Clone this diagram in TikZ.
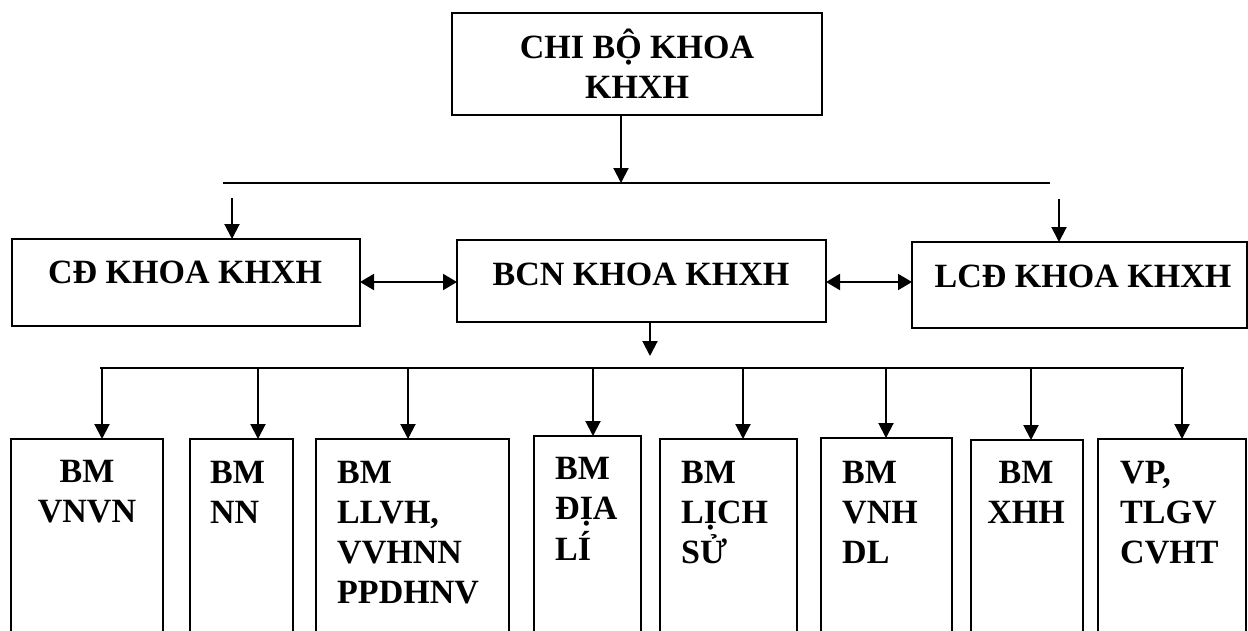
\documentclass[tikz,border=0pt]{standalone}
\usepackage{fontspec}
\setmainfont{Liberation Serif}
\usetikzlibrary{arrows.meta}
\begin{document}
\begin{tikzpicture}[x=1pt,y=-1pt,
  box/.style={draw, line width=2pt, anchor=north west, inner sep=0pt, outer sep=0pt},
  lbl/.style={inner sep=0pt, font=\fontsize{34}{40}\selectfont\bfseries},
  arr/.style={line width=2pt, -{Triangle[width=15pt,length=15pt]}},
  darr/.style={line width=2pt, {Triangle[width=16pt,length=14pt]}-{Triangle[width=16pt,length=14pt]}},
  thinline/.style={line width=1.3pt},
  busline/.style={line width=2pt}
  ]
\useasboundingbox (0,0) rectangle (1248,630);
\clip (0,0) rectangle (1248,630);

% upper boxes
\node[box, minimum width=370pt, minimum height=102pt] (chibo) at (452,13) {};
\node[box, minimum width=348pt, minimum height=87pt] (cd) at (12,239) {};
\node[box, minimum width=369pt, minimum height=82pt] (bcn) at (457,240) {};
\node[box, minimum width=335pt, minimum height=86pt] (lcd) at (912,242) {};

\node[lbl, anchor=base] (tchibo) at (637,58) {\begin{tabular}[t]{@{}c@{}}CHI BỘ KHOA\\KHXH\end{tabular}};
\node[lbl, anchor=base] (tcd) at (185,283) {CĐ KHOA KHXH};
\node[lbl, anchor=base] (tbcn) at (641,285) {BCN KHOA KHXH};
\node[lbl, anchor=base] (tlcd) at (1083,287) {LCĐ KHOA KHXH};

% lower boxes
\node[box, minimum width=152pt, minimum height=210pt] (vnvn) at (11,439) {};
\node[box, minimum width=103pt, minimum height=210pt] (nn) at (190,439) {};
\node[box, minimum width=193pt, minimum height=210pt] (llvh) at (316,439) {};
\node[box, minimum width=107pt, minimum height=210pt] (dia) at (534,436) {};
\node[box, minimum width=137pt, minimum height=210pt] (lich) at (660,439) {};
\node[box, minimum width=131pt, minimum height=210pt] (vnh) at (821,438) {};
\node[box, minimum width=112pt, minimum height=210pt] (xhh) at (971,440) {};
\node[box, minimum width=148pt, minimum height=210pt] (vp) at (1098,439) {};

\node[lbl, anchor=base] (tvnvn) at (87,482) {\begin{tabular}[t]{@{}c@{}}BM\\VNVN\end{tabular}};
\node[lbl, anchor=base west] (tnn) at (210,483) {\begin{tabular}[t]{@{}l@{}}BM\\NN\end{tabular}};
\node[lbl, anchor=base west] (tllvh) at (337,483) {\begin{tabular}[t]{@{}l@{}}BM\\LLVH,\\VVHNN\\PPDHNV\end{tabular}};
\node[lbl, anchor=base west] (tdia) at (555,479) {\begin{tabular}[t]{@{}l@{}}BM\\ĐỊA\\LÍ\end{tabular}};
\node[lbl, anchor=base west] (tlich) at (681,483) {\begin{tabular}[t]{@{}l@{}}BM\\LỊCH\\SỬ\end{tabular}};
\node[lbl, anchor=base west] (tvnh) at (842,483) {\begin{tabular}[t]{@{}l@{}}BM\\VNH\\DL\end{tabular}};
\node[lbl, anchor=base] (txhh) at (1026,483) {\begin{tabular}[t]{@{}c@{}}BM\\XHH\end{tabular}};
\node[lbl, anchor=base west] (tvp) at (1120,483) {\begin{tabular}[t]{@{}l@{}}VP,\\TLGV\\CVHT\end{tabular}};

% top distribution
\coordinate (hl) at (223,183);
\coordinate (hr) at (1050,183);
\coordinate (hm) at (621,183);
\coordinate (cdin) at (232,198);
\coordinate (lcdin) at (1059,199);
\draw[thinline] (hl) -- (hr);
\draw[arr] (chibo.south -| hm) -- (hm);
\draw[arr] (cdin) -- (cdin |- cd.north);
\draw[arr] (lcdin) -- (lcdin |- lcd.north);

% double arrows
\coordinate (d1) at (0,282);
\draw[darr] (cd.east |- d1) -- (bcn.west |- d1);
\draw[darr] (bcn.east |- d1) -- (lcd.west |- d1);

% bus
\coordinate (bcnout) at (650,356);
\draw[arr] (bcn.south -| bcnout) -- (bcnout);
\coordinate (bl) at (100,368);
\coordinate (br) at (1184,368);
\draw[busline] (bl) -- (br);

\coordinate (b1) at (102,368);
\coordinate (b2) at (258,368);
\coordinate (b3) at (408,368);
\coordinate (b4) at (593,368);
\coordinate (b5) at (743,368);
\coordinate (b6) at (886,368);
\coordinate (b7) at (1031,368);
\coordinate (b8) at (1182,368);
\draw[arr] (b1) -- (b1 |- vnvn.north);
\draw[arr] (b2) -- (b2 |- nn.north);
\draw[arr] (b3) -- (b3 |- llvh.north);
\draw[arr] (b4) -- (b4 |- dia.north);
\draw[arr] (b5) -- (b5 |- lich.north);
\draw[arr] (b6) -- (b6 |- vnh.north);
\draw[arr] (b7) -- (b7 |- xhh.north);
\draw[arr] (b8) -- (b8 |- vp.north);
\end{tikzpicture}
\end{document}
